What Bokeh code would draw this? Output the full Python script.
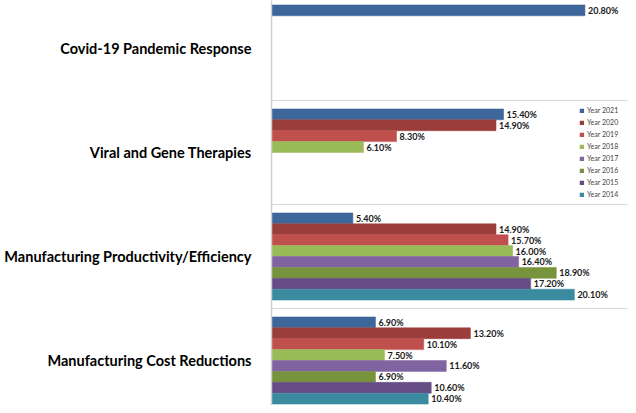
from bokeh.plotting import figure
from bokeh.models import ColumnDataSource, FixedTicker, Legend, LegendItem
from bokeh.embed import file_html
from bokeh.resources import INLINE
from bokeh.core.properties import value
import math

# categories, bottom to top
categories = ["Manufacturing Cost Reductions",
              "Manufacturing Productivity/Efficiency",
              "Viral and Gene Therapies",
              "Covid-19 Pandemic Response"]
years = ["Year 2021", "Year 2020", "Year 2019", "Year 2018",
         "Year 2017", "Year 2016", "Year 2015", "Year 2014"]
nan = float("nan")
# values (%) per year, in category order above
y2021 = [6.9, 5.4, 15.4, 20.8]
y2020 = [13.2, 14.9, 14.9, nan]
y2019 = [10.1, 15.7, 8.3, nan]
y2018 = [7.5, 16.0, 6.1, nan]
y2017 = [11.6, 16.4, nan, nan]
y2016 = [6.9, 18.9, nan, nan]
y2015 = [10.6, 17.2, nan, nan]
y2014 = [10.4, 20.1, nan, nan]
series = [y2021, y2020, y2019, y2018, y2017, y2016, y2015, y2014]
colors = ["#3D679A", "#9B3D3B", "#C0504D", "#9BBB59",
          "#8064A2", "#77933C", "#664C84", "#3A8AA0"]

font = "Lato"
p = figure(width=628, height=405, output_backend="svg", toolbar_location=None,
           x_range=(0, 23.69), y_range=(0.0673, 3.9615),
           min_border_left=271, min_border_right=0, min_border_top=0,
           min_border_bottom=0)
p.outline_line_color = None
p.background_fill_color = "white"
p.border_fill_color = "white"

bar_h = 0.1048
gap = (1 - len(years) * bar_h) / 2
items = []
for i, (yr, vals, col) in enumerate(zip(years, series, colors)):
    ys, xs, labs = [], [], []
    for c, v in enumerate(vals):
        if not math.isnan(v):
            ys.append(c + 1 - gap - (i + 0.5) * bar_h)
            xs.append(v)
            labs.append(f"{v:.2f}%")
    src = ColumnDataSource(dict(y=ys, x=xs, lab=labs))
    r = p.hbar(y="y", right="x", left=0, height=bar_h, source=src,
               fill_color=col, line_color=col, line_width=0.5)
    p.text(x="x", y="y", text="lab", source=src, x_offset=3,
           text_font=value(font), text_font_style="bold",
           text_font_size="9px", text_baseline="middle", text_align="left",
           text_color="#1a1a1a")
    items.append(LegendItem(label=yr, renderers=[r]))

legend = Legend(items=items, location=(308, 207),
                glyph_width=5, glyph_height=5, spacing=4, padding=0, margin=0,
                label_text_font=font, label_text_font_size="7px",
                label_standoff=3, label_height=7,
                border_line_color=None, background_fill_alpha=0)
p.add_layout(legend, "center")

p.xaxis.visible = False
p.xgrid.visible = False
p.yaxis.ticker = FixedTicker(ticks=[0.5, 1.5, 2.5, 3.5])
p.yaxis.major_label_overrides = {0.5: categories[0], 1.5: categories[1],
                                 2.5: categories[2], 3.5: categories[3]}
p.yaxis.major_label_text_font = font
p.yaxis.major_label_text_font_style = "bold"
p.yaxis.major_label_text_font_size = "14.5px"
p.yaxis.major_label_text_color = "#000000"
p.yaxis.major_label_standoff = 14
p.yaxis.major_tick_line_color = None
p.yaxis.minor_tick_line_color = None
p.yaxis.axis_line_color = "#D0D0D0"
p.yaxis.axis_line_width = 1.5
p.ygrid.ticker = FixedTicker(ticks=[1, 2, 3])
p.ygrid.grid_line_color = "#D9D9D9"
p.ygrid.grid_line_width = 1

open("out.html", "w").write(file_html(p, INLINE))
